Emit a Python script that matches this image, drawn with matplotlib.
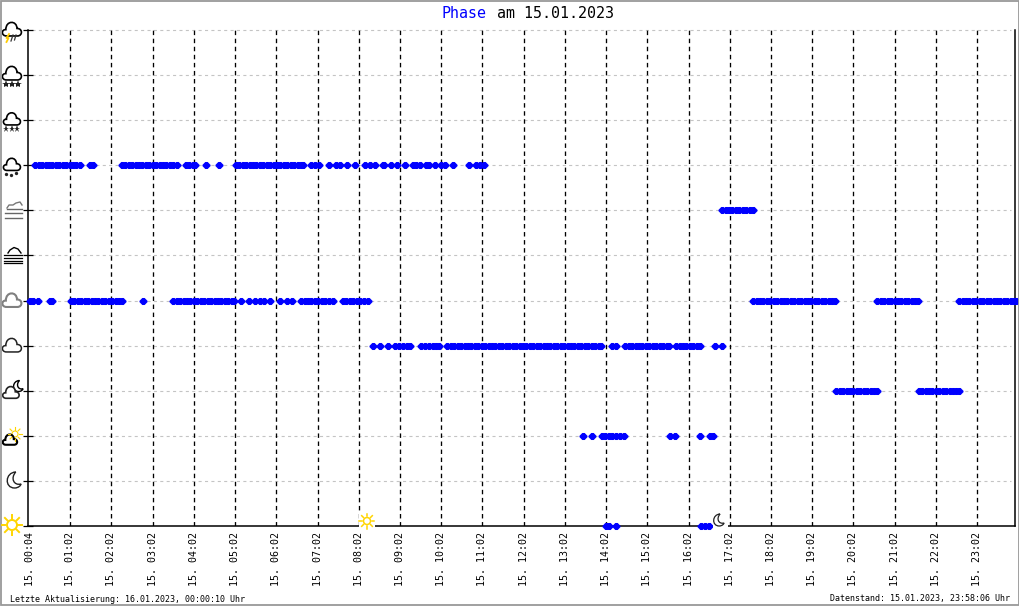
import matplotlib
matplotlib.use("Agg")
import matplotlib.pyplot as plt
from matplotlib.patches import PathPatch, Circle, Rectangle
from matplotlib.path import Path
import numpy as np

plt.rcParams["font.family"] = "DejaVu Sans Mono"
plt.rcParams["lines.scale_dashes"] = False

# minutes after midnight per phase level
level_0 = [842, 846, 857, 980, 986, 992]
level_2 = [808, 822, 836, 841, 846, 851, 857, 862, 868, 935, 943, 979, 994, 998]
level_3 = [1177, 1182, 1187, 1192, 1197, 1202, 1207, 1212, 1217, 1222, 1227, 1232, 1237,
           1297, 1302, 1307, 1312, 1317, 1322, 1327, 1332, 1337, 1342, 1347, 1352, 1356]
level_4 = [503, 513, 524, 535, 540, 546, 552, 557, 573, 578, 584, 590, 594, 599,
           611, 616, 621, 626, 631, 636, 641, 646, 651, 656, 661, 666, 671, 676, 681, 686,
           691, 696, 701, 706, 711, 716, 721, 726, 731, 736, 741, 746, 751, 756, 761, 766,
           771, 776, 781, 786, 791, 796, 801, 806, 811, 816, 821, 826, 831, 835,
           851, 857, 870, 875, 880, 885, 890, 895, 900, 905, 910, 915, 920, 925, 930, 933,
           944, 949, 954, 959, 964, 969, 974, 979, 1001, 1011]
level_5 = [3, 8, 15, 32, 35, 63, 68, 73, 78, 83, 88, 93, 98, 103, 108, 113, 118, 123, 128, 133, 138,
           168, 212, 217, 222, 227, 232, 237, 242, 247, 252, 257, 262, 267, 272, 277, 282, 287,
           292, 297, 300, 311, 322, 331, 338, 344, 353, 368, 378, 385,
           398, 403, 408, 413, 418, 423, 428, 433, 438, 445,
           459, 464, 469, 474, 479, 484, 489, 496,
           1056, 1061, 1066, 1071, 1076, 1081, 1086, 1091, 1096, 1101, 1106, 1111, 1116, 1121,
           1126, 1131, 1136, 1141, 1146, 1151, 1156, 1161, 1166, 1171, 1175,
           1237, 1242, 1247, 1252, 1257, 1262, 1267, 1272, 1277, 1282, 1287, 1292, 1296,
           1356, 1361, 1366, 1371, 1376, 1381, 1386, 1391, 1396, 1401, 1406, 1411, 1416, 1421,
           1426, 1431, 1436, 1439]
level_7 = [1011, 1016, 1021, 1026, 1031, 1036, 1041, 1046, 1051, 1056]
level_8 = [11, 16, 21, 26, 31, 36, 41, 46, 51, 56, 61, 66, 71, 76, 91, 95,
           137, 142, 147, 152, 157, 162, 167, 172, 177, 182, 187, 192, 197, 202, 207, 212, 217,
           230, 235, 240, 244, 259, 279,
           303, 308, 313, 318, 323, 328, 333, 338, 343, 348, 353, 358, 363, 368, 373, 378, 383,
           388, 393, 398, 401, 413, 418, 424, 438, 449, 455, 465, 476, 491, 499, 506, 517, 519,
           529, 538, 549, 561, 566, 571, 580, 584, 593, 602, 608, 619, 643, 653, 658, 664]

tick_minutes = [4, 62, 122, 182, 242, 302, 362, 422, 482, 542, 602, 662, 722, 782, 842, 902,
                962, 1022, 1082, 1142, 1202, 1262, 1322, 1382]
tick_labels = ["15. 00:04", "15. 01:02", "15. 02:02", "15. 03:02", "15. 04:02", "15. 05:02",
               "15. 06:02", "15. 07:02", "15. 08:02", "15. 09:02", "15. 10:02", "15. 11:02",
               "15. 12:02", "15. 13:02", "15. 14:02", "15. 15:02", "15. 16:02", "15. 17:02",
               "15. 18:02", "15. 19:02", "15. 20:02", "15. 21:02", "15. 22:02", "15. 23:02"]
levels = [0, 1, 2, 3, 4, 5, 6, 7, 8, 9, 10, 11]

# blunt diamond, the plotter draws its points like this
blunt_diamond = [(-4, -0.6), (-1.2, -3.5), (1.2, -3.5), (4, -0.6),
                 (4, 0.6), (1.2, 3.5), (-1.2, 3.5), (-4, 0.6)]

W, H = 1020, 606
fig = plt.figure(figsize=(W / 100, H / 100), dpi=100, facecolor="white")
ax = fig.add_axes([28.5 / W, 1 - 526 / H, 987 / W, 496 / H])
ax.set_xlim(1.2, 1438)
ax.set_ylim(0, 11)

ax.spines["top"].set_visible(False)
for name in ["left", "bottom", "right"]:
    ax.spines[name].set_linewidth(1.1)

ax.set_yticks(levels)
ax.set_yticklabels([])
ax.tick_params(axis="y", direction="inout", length=6.5, width=0.9)
ax.set_xticks(tick_minutes)
ax.set_xticklabels(tick_labels, rotation=90, fontsize=7.2)
ax.tick_params(axis="x", length=0, pad=4)

for y in levels[1:]:
    ax.plot([6, 1432], [y, y], color="#c4c4c4", lw=0.8, ls=(0, (2.2, 2.4)), zorder=1, clip_on=False)
for m in tick_minutes[1:]:
    ax.plot([m, m], [0, 11], color="black", lw=0.95, ls=(0, (3.2, 2.6)), zorder=2)

for lev, times in [(0, level_0), (2, level_2), (3, level_3), (4, level_4),
                   (5, level_5), (7, level_7), (8, level_8)]:
    ax.plot(times, [lev] * len(times), ls="", marker=blunt_diamond, ms=5.8, color="#0000ff",
            mec="#0000ff", mew=0, clip_on=False, zorder=5)

# overlay in pixel coordinates for icons, border and captions
ov = fig.add_axes([0, 0, 1, 1], zorder=10)
ov.set_xlim(0, W)
ov.set_ylim(H, 0)
ov.axis("off")
ov.patch.set_alpha(0)


def cloud(cx, cy, s=1.0, color="black", lw=1.2):
    pts = [(-0.62, 0.55), (-1.2, 0.55), (-1.2, -0.2), (-0.68, -0.15),
           (-0.7, -1.2), (0.55, -1.2), (0.55, -0.28), (1.2, -0.3), (1.2, 0.55), (0.6, 0.55), (-0.62, 0.55)]
    codes = [Path.MOVETO] + [Path.CURVE4] * 9 + [Path.LINETO]
    v = [(cx + 9.5 * s * a, cy + 9.5 * s * b) for a, b in pts]
    ov.add_patch(PathPatch(Path(v, codes), fc="white", ec=color, lw=lw))


def moon(cx, cy, r, color="black", lw=1.0, fc="white"):
    pts = [(0.35, -1.0), (-1.0, -0.95), (-1.1, 1.0), (0.2, 1.0), (0.7, 1.0), (1.0, 0.65), (1.0, 0.5),
           (0.1, 0.75), (-0.35, -0.25), (0.35, -1.0)]
    codes = [Path.MOVETO] + [Path.CURVE4] * 9
    v = [(cx + r * a, cy + r * b) for a, b in pts]
    ov.add_patch(PathPatch(Path(v, codes), fc=fc, ec=color, lw=lw))


def sun(cx, cy, r, ray, color="#ffd500", lw=1.3):
    for a in np.deg2rad([0, 45, 90, 135, 180, 225, 270, 315]):
        ov.plot([cx + (r + 1.5) * np.cos(a), cx + ray * np.cos(a)],
                [cy + (r + 1.5) * np.sin(a), cy + ray * np.sin(a)], color=color, lw=lw)
    ov.add_patch(Circle((cx, cy), r, fc="white", ec=color, lw=lw))


def flakes(xs, y, size=1.5, color="#222222"):
    ov.plot(xs, [y] * len(xs), ls="", marker="*", ms=size * 3, color=color, mew=0)


# level 11 thunderstorm
cloud(12, 31, 0.95)
ov.plot([9, 6.5, 8.5, 6.5], [34, 38, 38, 42], color="#ffcc00", lw=1.3)
ov.plot([13, 11], [35, 41], color="#333333", lw=0.9)
ov.plot([16, 14.5], [35, 40], color="#333333", lw=0.9)
# level 10 heavy snow
cloud(12, 75, 0.95)
flakes([6, 12, 18], 84, 2)
# level 9 snow
cloud(12, 120.5, 0.85)
flakes([6, 12, 17], 129, 1.7)
# level 8 rain
cloud(12, 166, 0.85)
ov.plot([6, 11, 16], [174, 175, 173], ls="", marker="o", ms=2.4, color="#222222", mew=0)
# level 7 mist
ov.plot([7, 9, 13, 16, 20, 22], [208, 205, 205, 203, 202, 205], color="#777777", lw=1.0)
for y in [209, 213, 217.5]:
    ov.plot([5 if y > 209 else 7, 22], [y, y], color="#666666", lw=1.0)
# level 6 fog
ov.plot([8, 10, 14, 18, 21], [253, 250, 247.5, 249, 253], color="black", lw=1.0)
for y in [255, 258, 260.5, 263]:
    ov.plot([4, 22], [y, y], color="black", lw=0.9)
# level 5 overcast
cloud(12, 302, 0.95, "#808080", 1.5)
# level 4 cloudy
cloud(12, 347, 0.95, "#222222", 1.1)
# level 3 cloud at night
moon(17.5, 386, 5.5)
cloud(11, 394, 0.82, "#222222", 1.2)
# level 2 cloud with sun
sun(15, 434, 3, 7, lw=0.8)
cloud(10, 441, 0.72, "black", 1.5)
# level 1 clear night
moon(13, 480, 8, "#222222", 1.0)
# level 0 clear day
sun(12, 525, 5, 10, lw=1.4)

# sunrise and sunset on the time axis
ov.add_patch(Rectangle((359, 512), 16, 17, fc="white", ec="none"))
sun(367, 521, 3.5, 7.5, lw=1.1)
ov.add_patch(Rectangle((713, 512), 15, 17, fc="white", ec="none"))
moon(718, 520, 6, "#222222", 0.9)

# image border
ov.add_patch(Rectangle((0.5, 0.5), W - 1.5, H - 1.5, fc="none", ec="#999999", lw=1.3))

ov.text(442, 13, "Phase", color="#0000ff", fontsize=10.8, va="center", ha="left")
ov.text(497, 13, "am 15.01.2023", color="black", fontsize=10.8, va="center", ha="left")
ov.text(10, 599, "Letzte Aktualisierung: 16.01.2023, 00:00:10 Uhr", fontsize=6, va="center", ha="left")
ov.text(1010, 599, "Datenstand: 15.01.2023, 23:58:06 Uhr", fontsize=6, va="center", ha="right")

fig.savefig("out.png", dpi=100)
